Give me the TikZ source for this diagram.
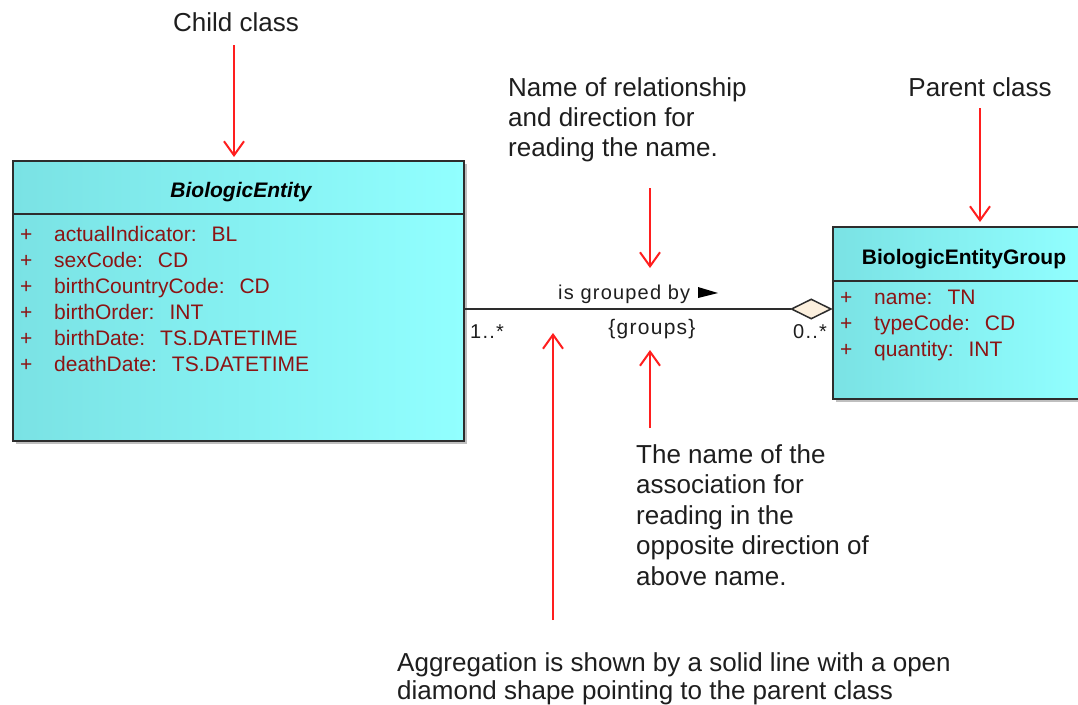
\documentclass[tikz,border=0pt]{standalone}
\usepackage{fontspec}
\setmainfont{Liberation Sans}
\usetikzlibrary{arrows.meta,shapes.geometric}
\definecolor{clsL}{RGB}{122,226,228}
\definecolor{clsR}{RGB}{145,255,255}
\definecolor{attrc}{RGB}{140,20,20}
\definecolor{edgec}{RGB}{45,45,45}
\definecolor{annc}{RGB}{30,30,30}
\definecolor{arrc}{RGB}{255,30,30}
\definecolor{diac}{RGB}{252,240,222}
\newcommand\AGap{\hspace{15pt}}
\newcommand\APlus{\makebox[34pt][l]{+}}
\begin{document}
\begin{tikzpicture}[x=1pt,y=-1pt,
  classbox/.style={draw=edgec,line width=2pt,left color=clsL,right color=clsR,rectangle,inner sep=0pt,anchor=north west},
  shadowbox/.style={fill=black!25},
  divider/.style={draw=edgec,line width=2pt},
  headtext/.style={font=\bfseries\fontsize{21}{25}\selectfont,text=black,inner sep=0pt,anchor=base},
  attrtext/.style={font=\fontsize{21}{26}\selectfont,text=attrc,align=left,inner sep=0pt,anchor=north west},
  anntext/.style={font=\fontsize{26}{30}\selectfont,text=annc,align=left,inner sep=0pt},
  lbltext/.style={font=\fontsize{20}{24}\selectfont\addfontfeatures{LetterSpace=6},text=annc,inner sep=0pt},
  assoc/.style={draw=edgec,line width=2pt},
  redarrow/.style={draw=arrc,line width=2pt,-{Straight Barb[length=14pt,width=20pt]}}
]
\useasboundingbox (0,0) rectangle (1078,704);
\fill[white] (0,0) rectangle (1078,704);

% shadows
\fill[shadowbox] (16,164) rectangle (467,444);
\fill[shadowbox] (836,230) rectangle (1082,402);

% classes
\node[classbox,minimum width=451pt,minimum height=280pt] (child) at (12,160) {};
\draw[divider] (child.west |- 0,214) -- (child.east |- 0,214);
\node[headtext,font=\bfseries\itshape\fontsize{21}{25}\selectfont] (childname) at (241,197) {BiologicEntity};
\node[attrtext] (childattr) at (20,226) {\APlus actualIndicator:\AGap BL\\
\APlus sexCode:\AGap CD\\
\APlus birthCountryCode:\AGap CD\\
\APlus birthOrder:\AGap INT\\
\APlus birthDate:\AGap TS.DATETIME\\
\APlus deathDate:\AGap TS.DATETIME};

\node[classbox,minimum width=250pt,minimum height=172pt] (parent) at (832,226) {};
\draw[divider] (parent.west |- 0,281) -- (parent.east |- 0,281);
\node[headtext] (parentname) at (964,264) {BiologicEntityGroup};
\node[attrtext] (parentattr) at (840,290) {\APlus name:\AGap TN\\
\APlus typeCode:\AGap CD\\
\APlus quantity:\AGap INT};

% aggregation
\node[diamond,aspect=2,draw=edgec,fill=diac,line width=1.5pt,minimum width=40pt,minimum height=20pt,inner sep=0pt,anchor=east] (agg) at (parent.west |- 0,309) {};
\draw[assoc] (child.east |- agg.west) -- (agg.west);
\node[lbltext,anchor=base west] (relname) at (558,299) {is grouped by};
\fill[black] (698,287) -- (718,293) -- (698,298) -- cycle;
\node[lbltext,font=\fontsize{21}{24}\selectfont\addfontfeatures{LetterSpace=6},anchor=base] (relrole) at (652,334) {\{groups\}};
\node[lbltext,anchor=base west] (multA) at (470,338) {1..*};
\node[lbltext,anchor=base west] (multB) at (793,338) {0..*};

% annotations
\node[anntext,anchor=base] (childlbl) at (236,31) {Child class};
\node[anntext,anchor=base] (parentlbl) at (980,96) {Parent class};
\node[anntext,anchor=north west] (namelbl) at (508,77) {Name of relationship\\and direction for\\reading the name.};
\node[anntext,anchor=north west,font=\fontsize{26}{30.5}\selectfont] (rolelbl) at (636,444) {The name of the\\association for\\reading in the\\opposite direction of\\above name.};
\node[anntext,anchor=north west,font=\fontsize{26}{28}\selectfont] (agglbl) at (397,652) {Aggregation is shown by a solid line with a open\\diamond shape pointing to the parent class};

\coordinate (nameA) at (650,188);
\coordinate (nameB) at (650,268);
\coordinate (roleA) at (650,428);
\coordinate (roleB) at (650,350);
\coordinate (aggA) at (553,620);
\coordinate (aggB) at (553,333);

\draw[redarrow] (234,45) -- ([yshift=3pt]child.north -| 234,0);
\draw[redarrow] (parentlbl.south |- 0,108) -- ([yshift=4pt]parent.north -| parentlbl.south);
\draw[redarrow] (nameA) -- (nameB);
\draw[redarrow] (roleA) -- (roleB);
\draw[redarrow] (aggA) -- (aggB);
\end{tikzpicture}
\end{document}
